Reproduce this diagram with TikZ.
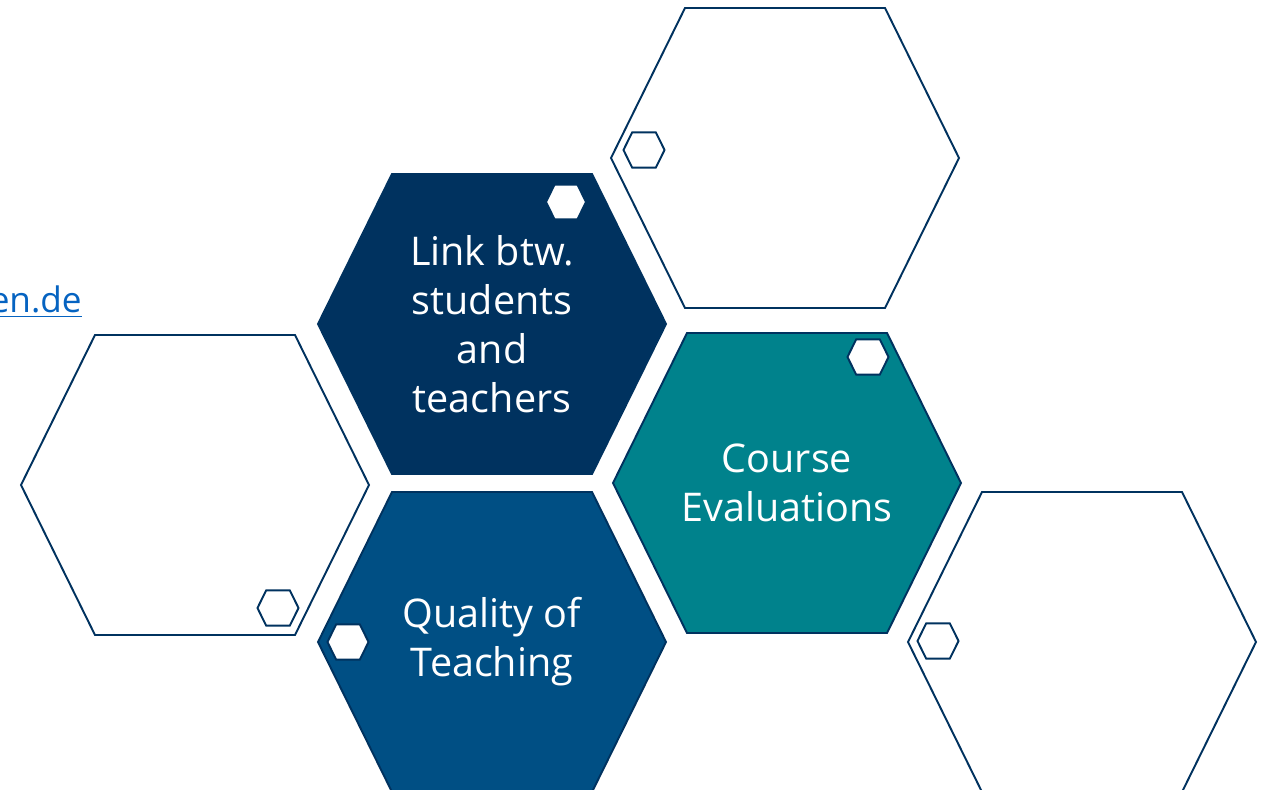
\documentclass[tikz,border=0pt]{standalone}
\usepackage{fontspec}
\setmainfont{Open Sans}

\definecolor{uninavy}{RGB}{0,50,95}
\definecolor{uniblue}{RGB}{0,79,132}
\definecolor{uniteal}{RGB}{0,130,140}
\definecolor{linkblue}{RGB}{5,99,193}

\tikzset{
	hexa/.pic={\path[pic actions] (-174,0) -- (-100,-150) -- (100,-150) -- (174,0)
		-- (100,150) -- (-100,150) -- cycle;},
	hexline/.style={draw=uninavy,line width=1.1pt},
	hexlabel/.style={text=white,align=center,inner sep=0pt,
		font=\fontsize{22.5}{27.9}\selectfont}
}

\begin{document}
\begin{tikzpicture}[x=0.02cm,y=-0.02cm]
\useasboundingbox (0,0) rectangle (1271,790);
\clip (0,0) rectangle (1271,790);
\fill[white] (0,0) rectangle (1271,790);
% link text cut off at the left border
\node[anchor=base east,inner sep=0pt,text=linkblue,font=\fontsize{20}{24}\selectfont] (mail) at (82,313) {\underline{en.de}};
% big hexagons
\coordinate (topright) at (785,158);
\coordinate (link) at (492,324);
\coordinate (left) at (195,485);
\coordinate (course) at (787,483);
\coordinate (quality) at (492,642);
\coordinate (botright) at (1082,642);
\pic[hexline] at (topright) {hexa};
\pic[hexline,fill=uninavy] at (link) {hexa};
\pic[hexline] at (left) {hexa};
\pic[hexline,fill=uniteal] at (course) {hexa};
\pic[hexline,fill=uniblue] at (quality) {hexa};
\pic[hexline] at (botright) {hexa};
\node[hexlabel] (linktext) at (link) {Link btw.\\students\\and\\teachers};
\node[hexlabel] (coursetext) at (course) {Course\\Evaluations};
\node[hexlabel] (qualitytext) at (quality) {Quality of\\Teaching};
% small hexagons
\pic[hexline,fill=white,scale=0.115] at (566,202) {hexa};
\pic[hexline,scale=0.118] at (644,150) {hexa};
\pic[hexline,scale=0.118] at (278,608) {hexa};
\pic[hexline,fill=white,scale=0.118] at (868,357) {hexa};
\pic[hexline,fill=white,scale=0.118] at (348,642) {hexa};
\pic[hexline,scale=0.118] at (938,641) {hexa};
\end{tikzpicture}
\end{document}
